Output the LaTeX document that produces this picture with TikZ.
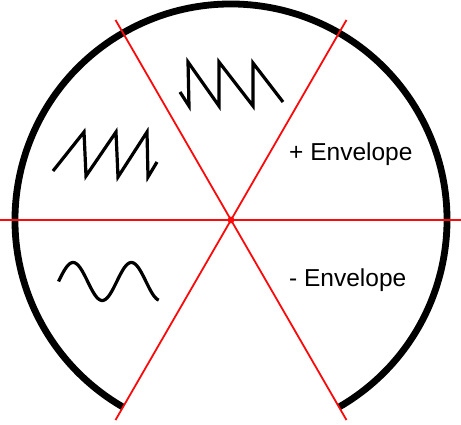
\documentclass[tikz,border=0pt]{standalone}
\usepackage{fontspec}
\setmainfont{Liberation Sans}
\usetikzlibrary{calc}
\definecolor{divred}{RGB}{250,10,10}

\begin{document}
\begin{tikzpicture}[
    x=1pt, y=-1pt,
    rim/.style={draw=black, line width=6.8pt},
    divider/.style={draw=divred, line width=1.8pt},
    wave/.style={draw=black, line width=3.2pt, line join=miter},
    label/.style={anchor=base west, inner sep=0pt, font=\fontsize{24.5}{28}\selectfont}
]
\useasboundingbox (0,0) rectangle (461,425);
\coordinate (hub) at (231,220);
% open rim
\draw[rim] ($(hub)+(60:216)$) arc[start angle=60, end angle=-240, radius=216];
% dividers
\foreach \a in {0,60,120}
  \draw[divider] ($(hub)+(\a:231)$) -- ($(hub)+(\a+180:231)$);
\fill[divred] (hub) circle[radius=3.4];
% waveforms
\draw[wave] (180,92) -- (189,106) -- (188,62) -- (219,106) -- (219,62) -- (253,106) -- (253,63) -- (283,102);
\draw[wave] (53,171) -- (84,132) -- (86,176) -- (116,132) -- (118,177) -- (147,132) -- (148,177) -- (157,162);
\draw[wave] plot[domain=0:1.72, samples=80, smooth] ({58.5+58.3*\x}, {281.5-19*sin(360*\x)});
\node[label] (plusenv) at (289,161) {+ Envelope};
\node[label] (minusenv) at (289,287) {- Envelope};
\end{tikzpicture}
\end{document}
